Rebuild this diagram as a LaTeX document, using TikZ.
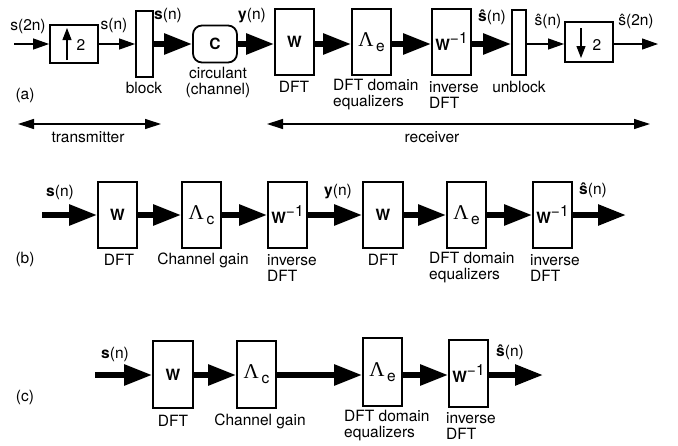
\documentclass[tikz,border=0pt]{standalone}
\usepackage{fontspec}
\setmainfont{TeX Gyre Heros}
\newfontfamily\symserif{Liberation Serif}
\usetikzlibrary{arrows.meta}
\newcommand{\Lam}[1]{{\symserif\fontsize{21}{21}\selectfont Λ}\,\raisebox{-5pt}{#1}}
\begin{document}
\begin{tikzpicture}[x=1pt,y=-1pt,
  every node/.style={font=\fontsize{15.5}{16}\selectfont, inner sep=0pt},
  box/.style={draw, line width=1.8pt, minimum width=39pt, minimum height=66pt},
  fat/.style={line width=5.5pt, -{Triangle[length=28pt,width=20pt]}},
  thin/.style={line width=1.1pt, -{Triangle[length=16pt,width=11pt]}},
  span/.style={line width=1.2pt, {Triangle[length=16pt,width=10pt]}-{Triangle[length=16pt,width=10pt]}},
  inarrow/.style={line width=1.1pt, -{Triangle[length=12pt,width=9pt]}},
  lbl/.style={align=left, anchor=west},
  Wb/.style={font=\fontsize{15.5}{16}\selectfont\bfseries}
]
\useasboundingbox (0,0) rectangle (678,445);

% ---------- row (a) ----------
\coordinate (ina) at (14,44);
\node[draw, line width=1.8pt, minimum width=48pt, minimum height=38pt] (up) at (74,44) {};
\node[draw, line width=1.8pt, minimum width=17pt, minimum height=66pt] (blk) at (144.5,44) {};
\node[draw, line width=1.8pt, minimum width=44pt, minimum height=37pt, rounded corners=9pt, Wb] (C) at (215,44) {C};
\node[box, Wb] (Wa) at (294.5,42) {W};
\node[box] (Lea) at (371.5,42) {\Lam{e}};
\node[box, Wb] (Wia) at (451.5,42) {W\raisebox{7pt}{\mdseries −1}};
\node[draw, line width=1.8pt, minimum width=14pt, minimum height=65pt] (ublk) at (519,42.5) {};
\node[draw, line width=1.8pt, minimum width=48pt, minimum height=40pt] (down) at (589,42) {};
\coordinate (outa) at (658,44);

\draw[thin] (ina) -- (up.west |- ina);
\draw[thin] (up.east |- ina) -- (blk.west |- ina);
\draw[fat] (blk.east |- ina) -- (C.west |- ina);
\draw[fat] (C.east |- ina) -- (Wa.west |- ina);
\draw[fat] (Wa.east |- ina) -- (Lea.west |- ina);
\draw[fat] (Lea.east |- ina) -- (Wia.west |- ina);
\draw[fat] (Wia.east |- ina) -- (ublk.west |- ina);
\draw[thin] (ublk.east |- ina) -- (down.west |- ina);
\draw[thin] (down.east |- ina) -- (outa);

% inner up / down arrows
\coordinate (upb) at (67,60);
\coordinate (upt) at (67,28);
\draw[inarrow] (upb) -- (upt);
\node (up2) at (81,45) {2};
\coordinate (dnt) at (581,28);
\coordinate (dnb) at (581,58);
\draw[inarrow] (dnt) -- (dnb);
\node (dn2) at (597,45) {2};

% signal labels
\node (s2n) at (28,26) {s(2n)};
\node (sn1) at (114,25) {s(n)};
\node (sn2) at (168,15) {\textbf{s}(n)};
\node (yn1) at (252,16) {\textbf{y}(n)};
\node (sh1) at (492,17) {\textbf{\^{s}}(n)};
\node (sh2) at (548,21) {\^{s}(n)};
\node (sh3) at (636,21) {\^{s}(2n)};

% block labels
\node (l1) at (144,88) {block};
\node[align=center] (l2) at (218,82.5) {circulant\\(channel)};
\node (l3) at (294,87) {DFT};
\node[lbl] (l4) at (333,95) {DFT domain\\equalizers};
\node[lbl] (l5) at (429,95) {inverse\\DFT};
\node (l6) at (519,87) {unblock};
\node (la) at (25,95) {(a)};

% transmitter / receiver
\coordinate (tx1) at (18,124);
\coordinate (tx2) at (161,124);
\draw[span] (tx1) -- (tx2);
\node (tx) at (88,137) {transmitter};
\coordinate (rx1) at (267,124);
\coordinate (rx2) at (650,124);
\draw[span] (rx1) -- (rx2);
\node (rx) at (432,137) {receiver};

% ---------- row (b) ----------
\coordinate (inb) at (42,215);
\node[box, Wb] (Wb1) at (117.5,215) {W};
\node[box] (Lcb) at (201.5,215) {\Lam{c}};
\node[box, Wb] (Wib1) at (287.5,215) {W\raisebox{7pt}{\mdseries −1}};
\node[box, Wb, minimum width=40pt] (Wb2) at (383,215) {W};
\node[box] (Leb) at (466.5,215) {\Lam{e}};
\node[box, Wb] (Wib2) at (552.5,215) {W\raisebox{7pt}{\mdseries −1}};
\coordinate (outb) at (626,215);

\draw[fat] (inb) -- (Wb1.west |- inb);
\draw[fat] (Wb1.east |- inb) -- (Lcb.west |- inb);
\draw[fat] (Lcb.east |- inb) -- (Wib1.west |- inb);
\draw[fat] (Wib1.east |- inb) -- (Wb2.west |- inb);
\draw[fat] (Wb2.east |- inb) -- (Leb.west |- inb);
\draw[fat] (Leb.east |- inb) -- (Wib2.west |- inb);
\draw[fat] (Wib2.east |- inb) -- (outb);

\node (bs) at (60,192) {\textbf{s}(n)};
\node (by) at (338,192) {\textbf{y}(n)};
\node (bsh) at (593,190) {\textbf{\^{s}}(n)};

\node (b1) at (119,260) {DFT};
\node (b2) at (203,260) {Channel gain};
\node[lbl] (b3) at (267,268) {inverse\\DFT};
\node (b4) at (383,260) {DFT};
\node[lbl] (b5) at (429,268) {DFT domain\\equalizers};
\node[lbl] (b6) at (530,268) {inverse\\DFT};
\node (lb) at (25,259) {(b)};

% ---------- row (c) ----------
\coordinate (inc) at (95,375);
\node[box, Wb, minimum width=40pt, minimum height=67pt] (Wc) at (173,374.5) {W};
\node[box, minimum height=67pt] (Lcc) at (256.5,374.5) {\Lam{c}};
\node[box, minimum height=68pt] (Lec) at (382.5,372) {\Lam{e}};
\node[box, Wb, minimum height=67pt] (Wic) at (468.5,373.5) {W\raisebox{7pt}{\mdseries −1}};
\coordinate (outc) at (543,375);

\draw[fat] (inc) -- (Wc.west |- inc);
\draw[fat] (Wc.east |- inc) -- (Lcc.west |- inc);
\draw[fat] (Lcc.east |- inc) -- (Lec.west |- inc);
\draw[fat] (Lec.east |- inc) -- (Wic.west |- inc);
\draw[fat] (Wic.east |- inc) -- (outc);

\node (cs) at (115,354) {\textbf{s}(n)};
\node (csh) at (510,352) {\textbf{\^{s}}(n)};

\node (c1) at (173,421) {DFT};
\node (c2) at (260,421) {Channel gain};
\node[lbl] (c3) at (344,425.5) {DFT domain\\equalizers};
\node[lbl] (c4) at (446,426) {inverse\\DFT};
\node (lc) at (25,397) {(c)};
\end{tikzpicture}
\end{document}
